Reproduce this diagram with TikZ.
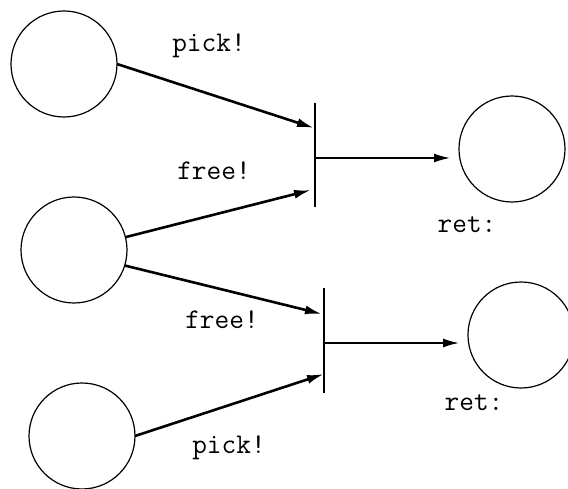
\documentclass[tikz,border=0pt]{standalone}
\usetikzlibrary{arrows.meta}
\tikzset{
  place/.style={circle, draw, line width=1.2pt, minimum size=106pt, inner sep=0pt, outer sep=0pt},
  arc/.style={line width=2.6pt, -{Latex[length=17pt,width=9pt]}},
  bar/.style={line width=2.6pt},
  lbl/.style={anchor=base, inner sep=0pt, font=\fontsize{28.5}{32}\selectfont\ttfamily}
}
\begin{document}
\begin{tikzpicture}[x=1pt,y=-1pt]
\useasboundingbox (0,0) rectangle (568,489);
\clip (0,0) rectangle (568,489);
% places
\node[place] (c1) at (64,64) {};
\node[place] (c2) at (74,250) {};
\node[place] (c3) at (82,436) {};
\node[place] (c4) at (512,149) {};
\node[place] (c5) at (521,335) {};
% transition bars
\coordinate (b1t) at (315,103);
\coordinate (b1b) at (315,207);
\coordinate (b1m) at (315,158);
\coordinate (b2t) at (324,288);
\coordinate (b2b) at (324,393);
\coordinate (b2m) at (324,343);
\draw[bar] (b1t) -- (b1b);
\draw[bar] (b2t) -- (b2b);
% arrow targets
\coordinate (t1) at (314,128);
\coordinate (t2) at (311,190);
\coordinate (t3) at (322,314);
\coordinate (t4) at (324,374);
\coordinate (e1) at (451,158);
\coordinate (e2) at (460,343);
% arcs
\draw[arc] (c1.east) -- (t1);
\draw[arc] (c2.14) -- (t2);
\draw[arc] (c2.-17) -- (t3);
\draw[arc] (c3.east) -- (t4);
\draw[arc] (b1m) -- (e1);
\draw[arc] (b2m) -- (e2);
% labels
\node[lbl] (l1) at (209,52) {pick!};
\node[lbl] (l2) at (214,180) {free!};
\node[lbl] (l3) at (222,328) {free!};
\node[lbl] (l4) at (229,453) {pick!};
\node[lbl] (l5) at (467,233) {ret:};
\node[lbl] (l6) at (474,410) {ret:};
\end{tikzpicture}
\end{document}
